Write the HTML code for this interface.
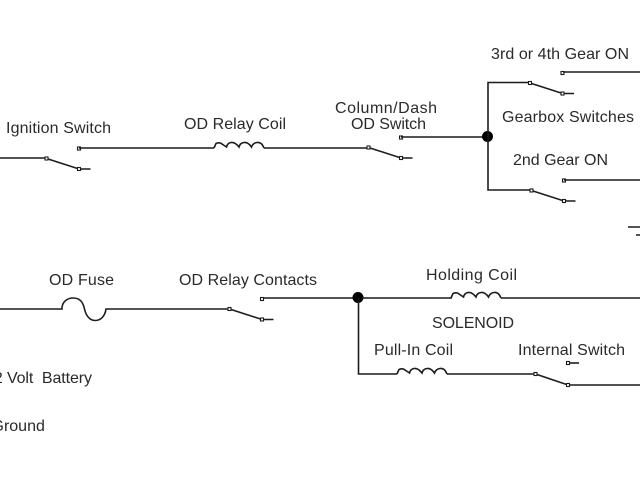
<!DOCTYPE html>
<html>
<head>
<meta charset="utf-8">
<style>
html,body{margin:0;padding:0;background:#fff;width:640px;height:480px;overflow:hidden}
svg{display:block}
text{font-family:"Liberation Sans",Arial,sans-serif;font-size:16px;fill:#2a2a2a;white-space:pre}
.w{fill:none;stroke:#1c1c1c;stroke-width:1.6}
.n{fill:#fff;stroke:#1c1c1c;stroke-width:1.1}
</style>
</head>
<body>
<svg width="640" height="480" viewBox="0 0 640 480" xmlns="http://www.w3.org/2000/svg">
<defs>
<filter id="b" x="-5%" y="-5%" width="110%" height="110%"><feGaussianBlur stdDeviation="0.3"/></filter>
<g id="sw">
<path class="w" d="M0 0L32.500 10.500H44"/>
<rect class="n" x="-1.500" y="-1.500" width="3" height="3"/>
<rect class="n" x="31" y="9" width="3" height="3"/>
<rect class="n" x="31" y="-11.500" width="3" height="3"/>
</g>
<path id="coil" class="w" d="M0 0L2 -4.500Q6 -6 8 -4Q11 -2 12.500 -1Q13.500 -5 17 -5.500Q21 -6 25 -1Q26 -5 30 -5.500Q34 -6 37.500 -1Q39 -5 43 -5.500Q47 -6 49 -2L50 0"/>
</defs>
<g filter="url(#b)">
<!-- Top row wires -->
<path class="w" d="M0 158H46"/>
<use href="#sw" x="46.500" y="158.500"/>
<path class="w" d="M79 148H214"/>
<use href="#coil" x="214" y="148"/>
<path class="w" d="M264 148H368"/>
<use href="#sw" x="368.500" y="147.500"/>
<path class="w" d="M401 137H488"/>
<circle cx="487.500" cy="136.500" r="5.500" fill="#000"/>
<path class="w" d="M530 82.500H488V190H531"/>
<use href="#sw" x="530" y="83"/>
<path class="w" d="M563 72H640"/>
<use href="#sw" x="531.500" y="190.500"/>
<path class="w" d="M564 180H640"/>
<path class="w" d="M628 227H640M636 235H640"/>

<!-- Bottom row wires -->
<path class="w" d="M0 309H62V307C63 301 68 298 73 298C80 298 83 302 84.500 309C86 316 90 320.500 95 320.500C101 320.500 105 316 106 309H229"/>
<use href="#sw" x="229.500" y="309"/>
<path class="w" d="M263 298H452"/>
<circle cx="358" cy="297.500" r="5.500" fill="#000"/>
<use href="#coil" x="451" y="298"/>
<path class="w" d="M501 298H640"/>
<path class="w" d="M358.500 298V374H397"/>
<use href="#coil" x="397" y="374"/>
<path class="w" d="M447 374H535"/>
<path class="w" d="M535.500 374L568 385H640"/>
<rect class="n" x="534" y="372.500" width="3" height="3"/>
<rect class="n" x="566.500" y="383.500" width="3" height="3"/>
<rect class="n" x="566.500" y="361.500" width="3" height="3"/>
<path class="w" d="M570 363H579"/>

<!-- Labels -->
<text x="6" y="133" textLength="105" lengthAdjust="spacing">Ignition Switch</text>
<text x="184" y="129" textLength="102" lengthAdjust="spacing">OD Relay Coil</text>
<text x="335" y="113" textLength="102" lengthAdjust="spacing">Column/Dash</text>
<text x="351" y="129" textLength="75" lengthAdjust="spacing">OD Switch</text>
<text x="491" y="59" textLength="138" lengthAdjust="spacing">3rd or 4th Gear ON</text>
<text x="502" y="122" textLength="132" lengthAdjust="spacing">Gearbox Switches</text>
<text x="513" y="165" textLength="95" lengthAdjust="spacing">2nd Gear ON</text>
<text x="49" y="285" textLength="65" lengthAdjust="spacing">OD Fuse</text>
<text x="179" y="285" textLength="138" lengthAdjust="spacing">OD Relay Contacts</text>
<text x="-15" y="383" textLength="107" lengthAdjust="spacing" xml:space="preserve">12 Volt  Battery</text>
<text x="-8.500" y="431">Ground</text>
<text x="426" y="280" textLength="91" lengthAdjust="spacing">Holding Coil</text>
<text x="432" y="328" textLength="82" lengthAdjust="spacing">SOLENOID</text>
<text x="374" y="355" textLength="79" lengthAdjust="spacing">Pull-In Coil</text>
<text x="518" y="355" textLength="107" lengthAdjust="spacing">Internal Switch</text>
</g>
</svg>
</body>
</html>
